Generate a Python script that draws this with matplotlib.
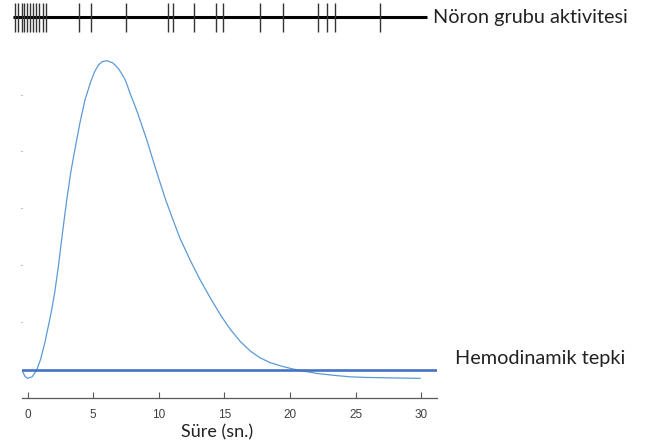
import numpy as np
import matplotlib
matplotlib.use("Agg")
import matplotlib.pyplot as plt

# spike times of the neuron group (s)
spike_times = [-0.95, -0.70, -0.44, -0.24, -0.02, 0.19, 0.44, 0.65, 0.90, 1.16, 1.39,
               3.93, 4.86, 7.51, 10.69, 11.09, 12.71, 14.34, 14.92, 17.72, 19.45,
               22.16, 22.83, 23.44, 26.89]
train_start, train_end = -1.10, 30.45

# hemodynamic response (normalised, peak = 1)
hrf_t = [-0.44, -0.2, 0.0, 0.35, 0.7, 1.0, 1.33, 1.8, 2.07, 2.35, 2.67, 2.99, 3.3, 3.62,
         4.0, 4.38, 4.8, 5.1, 5.4, 5.7, 6.04, 6.5, 6.92, 7.15, 7.4, 7.6, 7.81, 8.1, 8.4,
         9.09, 9.8, 10.53, 11.05, 11.62, 12.4, 13.15, 14.0, 14.8, 15.43, 16.2, 16.96,
         17.7, 18.48, 19.4, 20.26, 21.1, 22.04, 23.3, 24.58, 25.8, 27.1, 28.5, 29.92]
hrf_v = [0.0, -0.02, -0.027, -0.022, 0.0, 0.035, 0.09, 0.185, 0.25, 0.334, 0.445, 0.55,
         0.64, 0.715, 0.80, 0.873, 0.93, 0.963, 0.986, 0.997, 1.0, 0.993, 0.975, 0.96,
         0.942, 0.921, 0.895, 0.864, 0.83, 0.744, 0.646, 0.55, 0.49, 0.426, 0.355, 0.292,
         0.228, 0.172, 0.133, 0.093, 0.062, 0.040, 0.024, 0.012, 0.003, -0.004, -0.011,
         -0.017, -0.022, -0.024, -0.025, -0.026, -0.027]
baseline = 0.0

xticks = [0, 5, 10, 15, 20, 25, 30]

fig = plt.figure(figsize=(6.51, 4.48), dpi=100)

# spike train strip along the top
ax_top = fig.add_axes([0, 1 - 35 / 448, 1, 35 / 448])
ax_top.set_xlim(-2.096, 47.52)
ax_top.set_ylim(0, 1)
ax_top.hlines(0.514, train_start, train_end, color="black", lw=2.2)
ax_top.vlines(spike_times, 0.086, 0.914, color="#333333", lw=1.0)
ax_top.axis("off")

# main response axes
ax = fig.add_axes([22 / 651, 50 / 448, 415 / 651, 348 / 448])
ax.plot(hrf_t, hrf_v, color="#5B9BD5", lw=0.9)
ax.axhline(baseline, color="#4472C4", lw=1.9)
ax.set_xlim(-0.42, 31.21)
ax.set_ylim(-0.0905, 1.0346)

for s in ["top", "right", "left"]:
    ax.spines[s].set_visible(False)
ax.spines["bottom"].set_color("#595959")
ax.spines["bottom"].set_linewidth(0.9)

ax.set_xticks(xticks)
ax.set_xticklabels([str(v) for v in xticks], fontsize=8.5, family="Liberation Sans", color="#404040")
ax.tick_params(axis="x", direction="in", length=4, width=0.8, color="#595959", pad=8)
ax.set_yticks([0.155, 0.34, 0.524, 0.708, 0.889])
ax.set_yticklabels([])
ax.tick_params(axis="y", direction="out", length=1, width=0.8, color="#888888")

ax.set_xlabel("Süre (sn.)", fontsize=13, family="Lato", color="#222222")
ax.xaxis.set_label_coords((217 - 22) / 415, -(432 - 398) / 348)
ax.xaxis.label.set_verticalalignment("center")

fig.text(433 / 651, 1 - 17 / 448, "Nöron grubu aktivitesi", fontsize=14.3, family="Lato",
         color="#222222", va="center", ha="left")
fig.text(455 / 651, 1 - 358 / 448, "Hemodinamik tepki", fontsize=14.3, family="Lato",
         color="#222222", va="center", ha="left")

fig.savefig("out.png", dpi=100)
